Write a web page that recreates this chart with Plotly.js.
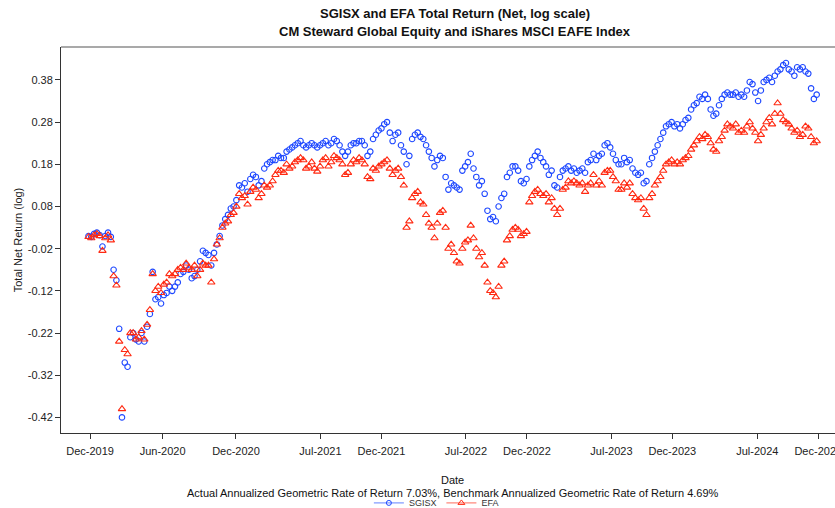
<!DOCTYPE html>
<html>
<head>
<meta charset="utf-8">
<script src="https://cdn.plot.ly/plotly-3.0.1.min.js"></script>
<style>
  html, body { margin: 0; padding: 0; background: #fff; }
  #chart { width: 835px; height: 508px; }
</style>
</head>
<body>
<div id="chart"></div>
<script>
// ---- Data (weekly readings, log total net return) ----
const startDate = '2019-12-27';   // first weekly observation (Fridays)

const sgisx = [
  0.010, 0.008, 0.015, 0.018, 0.012, -0.015, 0.010, 0.018, 0.008,
  -0.070, -0.095, -0.210, -0.420, -0.290, -0.300,
  -0.230, -0.220, -0.235, -0.240, -0.220, -0.240, -0.205, -0.175,
  -0.075, -0.140, -0.135, -0.150, -0.130, -0.125, -0.110, -0.120,
  -0.110, -0.100, -0.080, -0.075, -0.060, -0.070, -0.090, -0.085, -0.070, -0.050,
  -0.025, -0.030, -0.035, -0.060, -0.030, -0.010, 0.010, 0.035, 0.050, 0.060,
  0.075, 0.080, 0.095, 0.130, 0.125, 0.135, 0.115, 0.145, 0.155, 0.150,
  0.130, 0.140, 0.170, 0.180, 0.185, 0.190, 0.190, 0.200, 0.195, 0.195,
  0.210, 0.215, 0.220, 0.225, 0.230, 0.235, 0.225, 0.220, 0.225, 0.230,
  0.225, 0.220, 0.225, 0.230, 0.235, 0.225, 0.230, 0.240, 0.235, 0.225,
  0.210, 0.200, 0.210, 0.225, 0.230, 0.230, 0.235, 0.235, 0.225, 0.200,
  0.210, 0.240, 0.250, 0.260, 0.265, 0.275, 0.280, 0.255, 0.235, 0.250,
  0.255, 0.225, 0.210, 0.180, 0.200, 0.240, 0.250, 0.255, 0.245, 0.240,
  0.225, 0.210, 0.195, 0.175, 0.190, 0.200, 0.195, 0.150, 0.120, 0.135,
  0.130, 0.125, 0.120, 0.165, 0.175, 0.185, 0.205, 0.170, 0.150, 0.130,
  0.140, 0.110, 0.070, 0.050, 0.055, 0.045, 0.080, 0.100, 0.110, 0.150,
  0.160, 0.175, 0.175, 0.165, 0.140, 0.135, 0.145, 0.175, 0.190, 0.200,
  0.210, 0.195, 0.185, 0.175, 0.155, 0.165, 0.130, 0.125, 0.150, 0.165,
  0.170, 0.175, 0.165, 0.170, 0.160, 0.165, 0.170, 0.160, 0.185, 0.190,
  0.205, 0.190, 0.200, 0.205, 0.225, 0.230, 0.220, 0.205, 0.190, 0.180,
  0.180, 0.195, 0.185, 0.190, 0.170, 0.160, 0.155, 0.160, 0.135, 0.140,
  0.180, 0.195, 0.210, 0.225, 0.240, 0.255, 0.270, 0.275, 0.280, 0.270,
  0.275, 0.265, 0.275, 0.285, 0.290, 0.310, 0.320, 0.325, 0.340, 0.335,
  0.345, 0.335, 0.310, 0.295, 0.300, 0.320, 0.335, 0.345, 0.350, 0.345,
  0.345, 0.350, 0.340, 0.345, 0.340, 0.355, 0.375, 0.370, 0.350, 0.330,
  0.355, 0.375, 0.380, 0.385, 0.375, 0.390, 0.400, 0.405, 0.415, 0.420,
  0.405, 0.400, 0.390, 0.410, 0.405, 0.410, 0.400, 0.395, 0.360, 0.335, 0.345
];

const efa = [
  0.008, 0.005, 0.012, 0.015, 0.010, -0.025, 0.005, 0.012, 0.000,
  -0.085, -0.107, -0.240, -0.400, -0.260, -0.270,
  -0.220, -0.220, -0.235, -0.230, -0.215, -0.235, -0.200, -0.165,
  -0.080, -0.120, -0.110, -0.125, -0.105, -0.100, -0.080, -0.085,
  -0.080, -0.070, -0.065, -0.070, -0.055, -0.065, -0.070, -0.060, -0.085, -0.070,
  -0.055, -0.060, -0.060, -0.100, -0.045, -0.010, 0.005, 0.030, 0.040, 0.045,
  0.060, 0.065, 0.080, 0.110, 0.100, 0.105, 0.085, 0.115, 0.125, 0.120,
  0.100, 0.110, 0.130, 0.125, 0.130, 0.140, 0.155, 0.165, 0.165, 0.160,
  0.180, 0.170, 0.175, 0.185, 0.190, 0.195, 0.190, 0.170, 0.175, 0.185,
  0.170, 0.163, 0.175, 0.190, 0.195, 0.175, 0.185, 0.200, 0.195, 0.190,
  0.180, 0.155, 0.160, 0.180, 0.190, 0.185, 0.195, 0.190, 0.180, 0.150,
  0.145, 0.170, 0.165, 0.175, 0.180, 0.185, 0.190, 0.170, 0.155, 0.165,
  0.170, 0.150, 0.130, 0.030, 0.045, 0.100, 0.110, 0.115, 0.090, 0.085,
  0.060, 0.040, 0.030, 0.005, 0.040, 0.065, 0.070, 0.030, -0.020, -0.010,
  -0.030, -0.050, -0.055, -0.020, -0.005, 0.000, 0.035, 0.005, -0.020, -0.040,
  -0.030, -0.060, -0.100, -0.120, -0.125, -0.135, -0.110, -0.060, -0.050, 0.000,
  0.010, 0.025, 0.030, 0.025, 0.010, 0.015, 0.020, 0.090, 0.105, 0.115,
  0.120, 0.110, 0.105, 0.110, 0.090, 0.100, 0.075, 0.060, 0.075, 0.120,
  0.125, 0.140, 0.135, 0.140, 0.135, 0.130, 0.135, 0.115, 0.130, 0.135,
  0.155, 0.130, 0.140, 0.130, 0.160, 0.165, 0.165, 0.150, 0.140, 0.120,
  0.120, 0.135, 0.125, 0.135, 0.110, 0.100, 0.095, 0.100, 0.075, 0.060,
  0.100, 0.110, 0.130, 0.140, 0.150, 0.165, 0.180, 0.185, 0.190, 0.180,
  0.185, 0.180, 0.190, 0.195, 0.200, 0.215, 0.225, 0.235, 0.245, 0.240,
  0.250, 0.245, 0.230, 0.215, 0.210, 0.235, 0.245, 0.260, 0.275, 0.270,
  0.265, 0.275, 0.255, 0.260, 0.255, 0.270, 0.280, 0.265, 0.255, 0.235,
  0.250, 0.265, 0.280, 0.290, 0.275, 0.300, 0.325, 0.300, 0.285, 0.280,
  0.275, 0.265, 0.255, 0.260, 0.245, 0.250, 0.270, 0.265, 0.245, 0.230, 0.235
];

const tickDates  = ['2019-12-31','2020-06-30','2020-12-31','2021-07-31','2021-12-31',
                    '2022-07-31','2022-12-31','2023-07-31','2023-12-31','2024-07-31','2024-12-31'];
const tickLabels = ['Dec-2019','Jun-2020','Dec-2020','Jul-2021','Dec-2021',
                    'Jul-2022','Dec-2022','Jul-2023','Dec-2023','Jul-2024','Dec-2024'];
const yTickVals   = [-0.42, -0.32, -0.22, -0.12, -0.02, 0.08, 0.18, 0.28, 0.38];
const yTickLabels = ['-0.42', '-0.32', '-0.22', '-0.12', '-0.02', '0.08', '0.18', '0.28', '0.38'];
const seriesNames = ['SGISX', 'EFA'];

// weekly date grid for the observations
function weeklyDates(start, n) {
  const t0 = Date.parse(start + 'T00:00:00Z');
  const out = [];
  for (let i = 0; i < n; i++) out.push(new Date(t0 + i * 7 * 86400000).toISOString().slice(0, 10));
  return out;
}
const dates = weeklyDates(startDate, sgisx.length);

const BLUE = 'rgb(30,72,255)';
const RED  = 'rgb(255,42,18)';
const FONT = 'Liberation Sans, Arial, Helvetica, sans-serif';

const traces = [
  { x: dates, y: sgisx, type: 'scatter', mode: 'markers', name: seriesNames[0], showlegend: false,
    marker: { symbol: 'circle-open', size: 5.5, color: BLUE, line: { width: 1.1, color: BLUE } } },
  { x: dates, y: efa, type: 'scatter', mode: 'markers', name: seriesNames[1], showlegend: false,
    marker: { symbol: 'triangle-up-open', size: 6.5, color: RED, line: { width: 1.1, color: RED } } },
  // legend entries (line + marker)
  { x: [null], y: [null], type: 'scatter', mode: 'lines+markers', name: seriesNames[0],
    line: { color: 'rgba(60,100,255,0.8)', width: 1 },
    marker: { symbol: 'circle-open', size: 5, color: BLUE, line: { width: 1, color: BLUE } } },
  { x: [null], y: [null], type: 'scatter', mode: 'lines+markers', name: seriesNames[1],
    line: { color: 'rgba(255,70,50,0.8)', width: 1 },
    marker: { symbol: 'triangle-up-open', size: 6, color: RED, line: { width: 1, color: RED } } }
];

const layout = {
  width: 835, height: 508,
  margin: { l: 61, r: 0, t: 47, b: 75, pad: 0, autoexpand: false },
  paper_bgcolor: '#fff', plot_bgcolor: '#fff',
  font: { family: FONT, size: 11, color: '#222' },
  xaxis: {
    type: 'date',
    range: ['2019-10-19', '2025-02-11'],
    tickmode: 'array', tickvals: tickDates, ticktext: tickLabels,
    ticklabeloverflow: 'allow', ticklabelstandoff: 3,
    showgrid: false, zeroline: false,
    showline: true, linecolor: '#333', linewidth: 1,
    ticks: 'outside', ticklen: 5, tickcolor: '#333', tickwidth: 1,
    tickfont: { family: FONT, size: 11, color: '#222' }
  },
  yaxis: {
    range: [-0.457, 0.458],
    tickmode: 'array', tickvals: yTickVals, ticktext: yTickLabels,
    showgrid: false, zeroline: false,
    showline: true, linecolor: '#333', linewidth: 1,
    ticks: 'outside', ticklen: 5, tickcolor: '#333', tickwidth: 1,
    tickfont: { family: FONT, size: 11, color: '#222' },
    title: { text: 'Total Net Return (log)', font: { family: FONT, size: 11, color: '#222' }, standoff: 2 }
  },
  shapes: [
    { type: 'line', xref: 'paper', yref: 'paper', x0: 0, x1: 1, y0: 1, y1: 1,
      line: { color: '#8c8c8c', width: 1.5 } }
  ],
  annotations: [
    { text: '<b>SGISX and EFA Total Return (Net, log scale)</b>', xref: 'paper', yref: 'paper',
      x: 0.509, y: 1.088, xanchor: 'center', yanchor: 'middle', showarrow: false,
      font: { family: FONT, size: 13, color: '#111' } },
    { text: '<b>CM Steward Global Equity and iShares MSCI EAFE Index</b>', xref: 'paper', yref: 'paper',
      x: 0.509, y: 1.041, xanchor: 'center', yanchor: 'middle', showarrow: false,
      font: { family: FONT, size: 13, color: '#111' } },
    { text: 'Date', xref: 'paper', yref: 'paper', x: 0.506, y: -0.122,
      xanchor: 'center', yanchor: 'middle', showarrow: false,
      font: { family: FONT, size: 11, color: '#111' } },
    { text: 'Actual Annualized Geometric Rate of Return 7.03%, Benchmark Annualized Geometric Rate of Return 4.69%',
      xref: 'paper', yref: 'paper', x: 0.506, y: -0.155,
      xanchor: 'center', yanchor: 'middle', showarrow: false,
      font: { family: FONT, size: 11, color: '#111' } }
  ],
  legend: {
    orientation: 'h', x: 0.485, xanchor: 'center',
    yref: 'container', y: 0.01, yanchor: 'middle',
    font: { family: FONT, size: 9, color: '#333' },
    bgcolor: 'rgba(0,0,0,0)', itemwidth: 30, tracegroupgap: 0
  },
  showlegend: true,
  hovermode: false
};

Plotly.newPlot('chart', traces, layout, { staticPlot: true, displayModeBar: false });
</script>
</body>
</html>
